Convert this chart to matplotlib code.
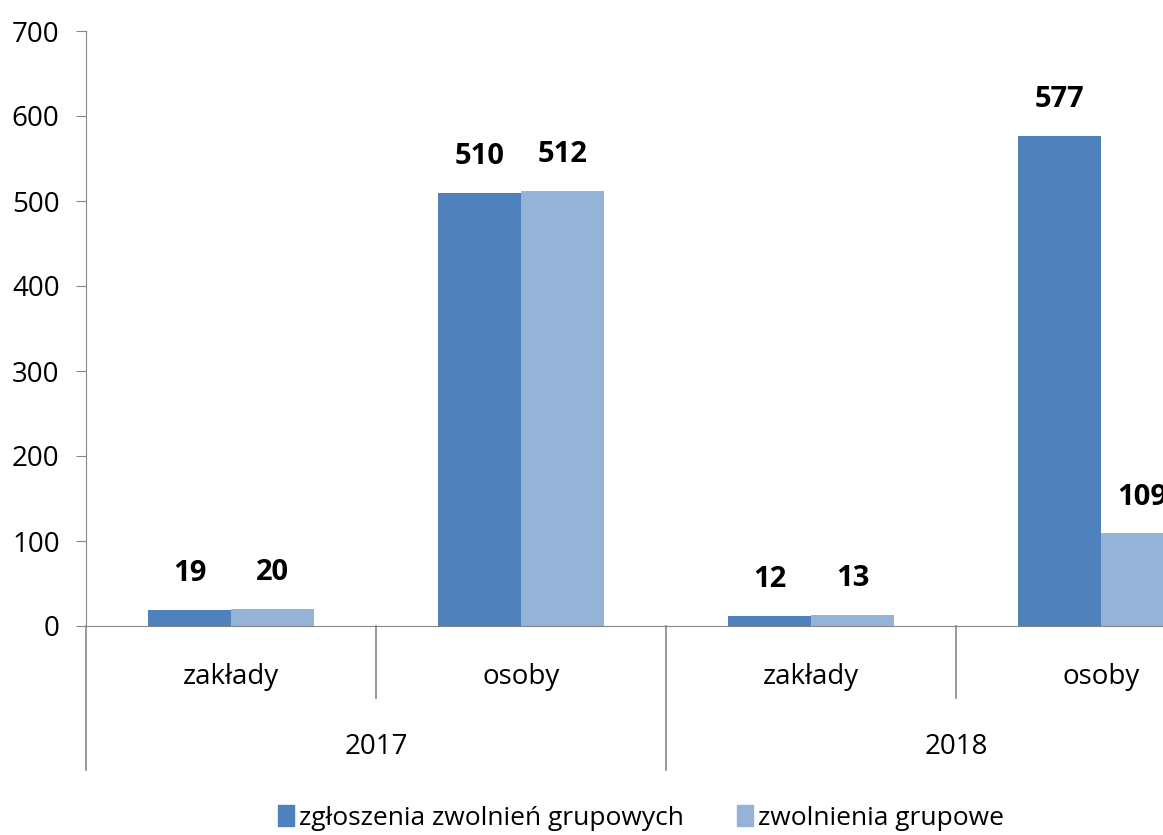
import matplotlib.pyplot as plt
import matplotlib.transforms as mtransforms
from matplotlib.patches import Patch

years = ['2017', '2018']
categories = ['zakłady', 'osoby', 'zakłady', 'osoby']
series_names = ['zgłoszenia zwolnień grupowych', 'zwolnienia grupowe']
zgloszenia = [19, 510, 12, 577]
zwolnienia = [20, 512, 13, 109]
yticks = [0, 100, 200, 300, 400, 500, 600, 700]

dark = '#4F81BD'
light = '#95B3D7'
axis_col = '#868686'

plt.rcParams['font.family'] = ['Open Sans', 'DejaVu Sans']

W, H = 1163, 835
fig = plt.figure(figsize=(W / 100, H / 100), dpi=100)
# axes deliberately runs past the right edge, as in the source picture
ax = fig.add_axes([86 / W, (H - 626) / H, 1160 / W, 595 / H])

x = list(range(len(categories)))
bw = 0.286
b1 = ax.bar([i - bw / 2 for i in x], zgloszenia, bw, color=dark)
b2 = ax.bar([i + bw / 2 for i in x], zwolnienia, bw, color=light)

for bars, vals in ((b1, zgloszenia), (b2, zwolnienia)):
    for b, v in zip(bars, vals):
        ax.annotate(str(v), (b.get_x() + b.get_width() / 2, v),
                    xytext=(0, 26), textcoords='offset points',
                    ha='center', va='center', fontsize=21, fontweight='bold',
                    annotation_clip=False)

ax.set_xlim(-0.5, 3.5)
ax.set_ylim(0, 700)
ax.set_yticks(yticks)
ax.tick_params(axis='y', labelsize=20, length=7, color=axis_col, pad=12)
ax.set_xticks([])
for s in ['top', 'right']:
    ax.spines[s].set_visible(False)
for s in ['left', 'bottom']:
    ax.spines[s].set_color(axis_col)

# two-level category axis drawn by hand
tr = mtransforms.blended_transform_factory(ax.transData, fig.transFigure)
def fy(px):
    return 1 - px / H

for i, c in enumerate(categories):
    ax.text(i, fy(677), c, transform=tr, ha='center', va='center', fontsize=20)
for j, yr in enumerate(years):
    ax.text(2 * j + 0.5, fy(747), yr, transform=tr, ha='center', va='center', fontsize=20)

for xb in [0.5, 2.5]:
    ax.plot([xb, xb], [fy(626), fy(698)], transform=tr, color=axis_col, lw=1.2, clip_on=False)
for xb in [-0.5, 1.5]:
    ax.plot([xb, xb], [fy(626), fy(770)], transform=tr, color=axis_col, lw=1.2, clip_on=False)

handles = [Patch(color=dark), Patch(color=light)]
fig.legend(handles, series_names, loc='center', bbox_to_anchor=(641 / W, fy(818)),
           ncol=2, frameon=False, fontsize=19, handlelength=0.6, handleheight=0.8,
           handletextpad=0.2, columnspacing=2.0)

fig.savefig('out.png', dpi=100)
